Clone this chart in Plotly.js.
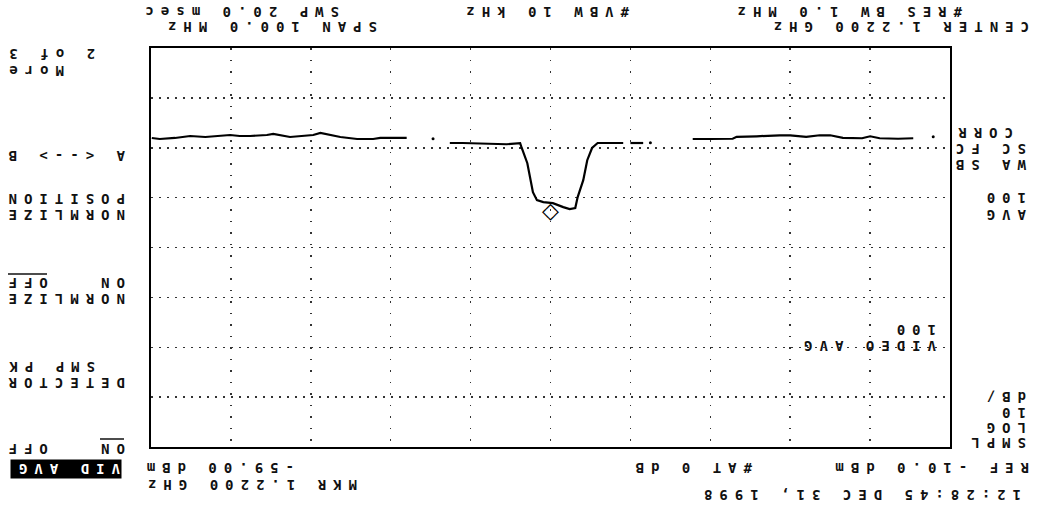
<!DOCTYPE html>
<html><head><meta charset="utf-8">
<script src="https://cdn.plot.ly/plotly-3.0.1.min.js"></script>
<style>
html,body{margin:0;padding:0;background:#fff;}
#chart{width:1047px;height:520px;}
.annotation-text{letter-spacing:7px;white-space:pre;}
</style></head><body><div id="chart"></div>
<script>
// Spectrum analyzer trace (screen photographed upside down: axes reversed, text turned 180 deg)
const freqMHz = [
  1174.6,1176.5,1178.8,1180.0,1181.0,1183.4,1185.0,1186.3,1188.0,1190.0,1191.3,1193.0,1194.2,1196.7,1197.2,1200.0,1202.2,
  null,
  1208.4,1210.0,
  null,
  1210.9,1212.5,1214.1,1214.8,1215.4,1215.9,1216.6,1216.9,1217.6,1218.4,1219.7,1220.9,1221.7,1222.2,1222.6,1222.9,1223.6,1223.8,1225.5,1227.0,1229.0,1231.0,1232.6,
  null,
  1238.0,1241.3,1242.2,1244.2,1246.3,1248.8,1249.7,1251.7,1252.6,1254.7,1255.5,1257.6,1258.9,1260.1,1263.2,1265.1,1267.0,1268.9,1269.9
];
const ampDbm = [
  -71.9,-71.8,-71.9,-72.3,-71.9,-72.0,-72.5,-72.5,-72.2,-72.5,-72.5,-72.3,-72.3,-72.2,-71.8,-71.75,-71.75,
  null,
  -70.95,-70.95,
  null,
  -70.95,-70.9,-70.95,-69.95,-67.5,-63.5,-60.1,-57.9,-57.7,-58.1,-58.9,-59.1,-59.5,-61.1,-64.1,-66.9,-69.95,-70.9,-70.7,-70.8,-70.95,-70.95,-70.95,
  null,
  -71.96,-71.96,-71.75,-71.75,-72.16,-72.96,-72.56,-72.36,-72.16,-72.76,-72.56,-72.36,-72.36,-72.56,-72.16,-72.36,-71.96,-71.75,-71.96
];
const dotFreqMHz = [1172.1, 1207.5, 1234.7];
const dotAmpDbm  = [-72.2, -71.0, -71.8];
const markerFreqMHz = [1220.0];
const markerAmpDbm  = [-59.0];
const xRangeMHz = [1170, 1270];
const yRangeDbm = [-90, -10];
const divStepMHz = 10;
const divStepDb = 10;

// screen annotation texts
const topLine1 = ['SWP 20.0 msec', '#VBW 10 kHz', '#RES BW 1.0 MHz'];
const topLine2 = ['SPAN 100.0 MHz', 'CENTER 1.2200 GHz'];
const markerText = ['-59.00 dBm', 'MKR 1.2200 GHz'];
const refText = ['#AT 0 dB', 'REF -10.0 dBm', '12:28:45 DEC 31, 1998'];
const softKeys = ['2 of 3','More','A <--> B','POSITION','NORMLIZE','ON\u00a0\u00a0\u00a0OFF','NORMLIZE','SMP PK','DETECTOR','ON\u00a0\u00a0\u00a0OFF','VID AVG'];
const sideText = ['CORR','SC FC','WA SB','100','AVG','dB/','10','LOG','SMPL'];
const gratText = ['100','VIDEO AVG'];

const W=1047, H=520, L=151, R=97, T=48, B=73;
const PW=W-L-R, PH=H-T-B;
const px = x => (x-L)/PW;
const py = y => (H-B-y)/PH;
const FONT='DejaVu Sans Mono';
const LS=7;
function lbl(text, x, y, anchor, extra){
  return Object.assign({xref:'paper',yref:'paper',x:px(x),y:py(y),text:text,showarrow:false,
    textangle:180,xanchor:anchor,yanchor:'middle',borderpad:0,
    font:{family:FONT,size:14,color:'#111',weight:'bold'}}, extra||{});
}
const SK = 8-LS; // image-left aligned soft keys
const ann = [
  lbl(topLine1[0], 340, 12, 'right'),
  lbl(topLine1[1], 630, 12, 'right'),
  lbl(topLine1[2], 963, 12, 'right'),
  lbl(topLine2[0], 378, 27, 'right'),
  lbl(topLine2[1], 1030, 27, 'right'),
  lbl(markerText[0], 295, 468, 'right'),
  lbl(markerText[1], 358, 485, 'right'),
  lbl(refText[0], 753, 468, 'right'),
  lbl(refText[1], 1030, 468, 'right'),
  lbl(refText[2], 1022, 495, 'right'),
  lbl(softKeys[0], SK, 54, 'left'),
  lbl(softKeys[1], SK, 71, 'left'),
  lbl(softKeys[2], SK, 156, 'left'),
  lbl(softKeys[3], SK, 199, 'left'),
  lbl(softKeys[4], SK, 215, 'left'),
  lbl(softKeys[5], SK, 283, 'left'),
  lbl(softKeys[6], SK, 299, 'left'),
  lbl(softKeys[7], SK, 367, 'left'),
  lbl(softKeys[8], SK, 383, 'left'),
  lbl(softKeys[9], SK, 449, 'left'),
  lbl(softKeys[10], 122, 469, 'right', {bgcolor:'#000', borderpad:1, font:{family:FONT,size:14,color:'#fff',weight:'bold'}}),
  lbl(sideText[0], 1014, 133, 'right'),
  lbl(sideText[1], 1027, 149, 'right'),
  lbl(sideText[2], 1027, 165, 'right'),
  lbl(sideText[3], 1027, 198, 'right'),
  lbl(sideText[4], 1027, 215, 'right'),
  lbl(sideText[5], 1027, 397, 'right'),
  lbl(sideText[6], 1027, 413, 'right'),
  lbl(sideText[7], 1027, 428, 'right'),
  lbl(sideText[8], 1027, 443, 'right'),
  lbl(gratText[0], 937, 330, 'right'),
  lbl(gratText[1], 937, 346, 'right'),
  {xref:'x',yref:'y',x:markerFreqMHz[0],y:markerAmpDbm[0],showarrow:false,yshift:-8,
   text:'<span style="letter-spacing:0px">\u25C7</span>',
   font:{family:'DejaVu Sans',size:22,color:'#000',weight:'bold'}}
];
const shapes = [
  {type:'line',xref:'paper',yref:'paper',x0:px(8),x1:px(47),y0:py(274),y1:py(274),line:{color:'#111',width:1.5}},
  {type:'line',xref:'paper',yref:'paper',x0:px(100),x1:px(124),y0:py(439),y1:py(439),line:{color:'#111',width:1.5}}
];
const data = [
  {x:freqMHz, y:ampDbm, type:'scatter', mode:'lines', connectgaps:false, line:{color:'#000', width:2.2}, hoverinfo:'skip'},
  {x:dotFreqMHz, y:dotAmpDbm, type:'scatter', mode:'markers', marker:{color:'#000', size:3}, hoverinfo:'skip'}
];
const ax = {showgrid:true, gridcolor:'#333', gridwidth:1.5, showline:true, mirror:true, linecolor:'#000', linewidth:2,
  ticks:'', showticklabels:false, zeroline:false, fixedrange:true};
const layout = {
  width:W, height:H, margin:{l:L,r:R,t:T,b:B,pad:0},
  paper_bgcolor:'#fff', plot_bgcolor:'#fff', showlegend:false,
  xaxis:Object.assign({}, ax, {range:[xRangeMHz[1], xRangeMHz[0]], tick0:xRangeMHz[0], dtick:divStepMHz, griddash:'1.5px,10px'}),
  yaxis:Object.assign({}, ax, {range:[yRangeDbm[1], yRangeDbm[0]], tick0:yRangeDbm[1], dtick:divStepDb, griddash:'1.5px,6.5px'}),
  annotations:ann, shapes:shapes
};
Plotly.newPlot('chart', data, layout, {staticPlot:true, displayModeBar:false});
</script></body></html>
